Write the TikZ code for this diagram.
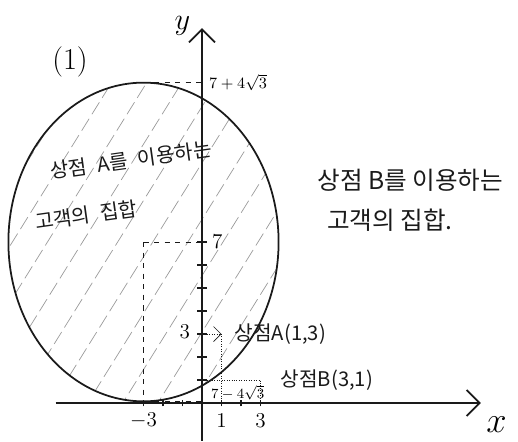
\documentclass[tikz,border=0pt]{standalone}
\usepackage{amsmath}
\usepackage{fontspec}
\newfontfamily\krfont{Noto Sans CJK KR}
\usetikzlibrary{arrows.meta,calc,positioning}
\definecolor{cInk}{HTML}{1A1A1A}
\definecolor{cAux}{HTML}{9A9A9A}
\tikzset{
  >={Straight Barb[length=2.6mm]},
  axis/.style   ={->,line width=1pt,cInk},
  curve/.style  ={line width=1pt,cInk},
  aux/.style    ={cInk,dashed},
  guide/.style  ={cInk,densely dotted},
  hatch/.style  ={cAux,thin,dash pattern=on 8pt off 3pt},
  tickmark/.style={cInk,thick},
  kr/.style     ={cInk,font=\krfont\fontsize{11.5}{14}\selectfont},
  krbig/.style  ={cInk,font=\krfont\fontsize{14}{17}\selectfont},
}

\begin{document}
\begin{tikzpicture}[x=0.39cm,y=0.46cm]
  \useasboundingbox (-4.04cm,-0.76cm) rectangle (6.32cm,8.06cm);
  \coordinate (O) at (0,0);
  \coordinate (C) at (-3,7);
  \coordinate (A) at (1,3);
  \coordinate (B) at (3,1);
  \coordinate (top) at (-3,{7+4*sqrt(3)});
  \coordinate (bot) at (-3,{7-4*sqrt(3)});
  \coordinate (xL) at (-7.5,0);
  \coordinate (xR) at (14.3,0);
  \coordinate (yB) at (0,-1.65);
  \coordinate (yT) at (0,16.3);

  \begin{scope}
    \clip (C) circle [radius={4*sqrt(3)}];
    \foreach \k in {-17.4,-15.6,...,0}
      \draw[hatch] (\k,-1) -- ++(13,17.7);
  \end{scope}
  \draw[curve] (C) circle [radius={4*sqrt(3)}];

  \draw[axis] (xL) -- (xR);
  \draw[axis] (yB) -- (yT);
  \foreach \t in {1,...,7}
    \draw[tickmark] (-0.25,\t) -- (0.25,\t);
  \foreach \t in {-3,-2,-1,1,2,3}
    \draw[tickmark] (\t,-0.15) -- (\t,0.15);

  \draw[aux] (C) -- (C -| O);
  \draw[aux] (C) -- (C |- O);
  \draw[aux] (top) -- (top -| O);
  \draw[aux] (bot) -- (bot -| O);
  \draw[guide,-{Straight Barb[length=1.5mm]}] (A -| O) -- (A);
  \draw[guide] (A) -- (A |- O);
  \draw[guide] (B -| O) -- (B) -- (B |- O);

  \node[font=\LARGE] (part) at (-6.77,14.83) {(1)};
  \node[font=\LARGE] (ylab) at (-1,16.4) {$y$};
  \node[font=\huge] (xlab) at (15.1,-0.95) {$x$};
  \node[font=\small,anchor=west] (topLbl) at (0.05,13.95) {$7+4\sqrt{3}$};
  \node[font=\footnotesize,anchor=west] (botLbl) at (0.15,0.45) {$7-4\sqrt{3}$};
  \node[font=\large,anchor=west] (sevenLbl) at (0.2,7) {$7$};
  \node[font=\large,anchor=east] (threeLbl) at (-0.3,3.1) {$3$};
  \node[font=\large] (mthreeLbl) at (-3,-0.75) {$-3$};
  \node[font=\large] (oneLbl) at (1,-0.75) {$1$};
  \node[font=\large] (threeXLbl) at (3,-0.75) {$3$};
  \node[kr,right=4pt of A] (lblA) {상점A(1,3)};
  \node[kr,right=8pt of B] (lblB) {상점B(3,1)};

  \node[kr,rotate=8] (regA1) at (-3.64,10.57) {상점\hspace{0.5em}A를\hspace{0.5em}이용하는};
  \node[kr,rotate=8] (regA2) at (-5.95,8.17) {고객의\hspace{0.5em}집합};
  \node[krbig,anchor=west] (regB1) at (5.6,9.7) {상점 B를 이용하는};
  \node[krbig,anchor=west] (regB2) at (6.1,7.96) {고객의 집합.};
\end{tikzpicture}
\end{document}
